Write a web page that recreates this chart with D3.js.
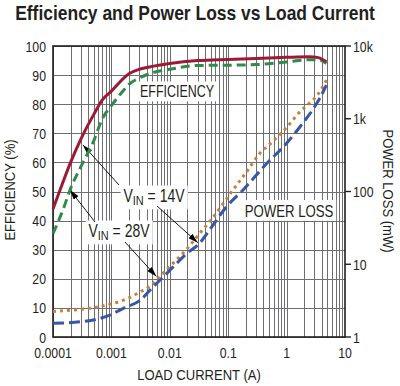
<!DOCTYPE html>
<html><head><meta charset="utf-8">
<script src="https://cdn.jsdelivr.net/npm/d3@7"></script>
<style>
body{margin:0;background:#fff;}
svg text{font-family:"Liberation Sans",Arial,sans-serif;fill:#231f20;}
</style></head>
<body><svg id="c" width="400" height="386"></svg>
<script>
// ---- data ----
const title = "Efficiency and Power Loss vs Load Current";
const xTicks = [0.0001, 0.001, 0.01, 0.1, 1, 10];
const xTickLabels = ["0.0001", "0.001", "0.01", "0.1", "1", "10"];
const effTicks = [0, 10, 20, 30, 40, 50, 60, 70, 80, 90, 100];
const lossTicks = [1, 10, 100, 1000, 10000];
const lossTickLabels = ["1", "10", "100", "1k", "10k"];

const eff14I = [0.0001, 0.00015, 0.0002, 0.0003, 0.0005, 0.0007, 0.001, 0.002, 0.003, 0.005, 0.01, 0.03, 0.1, 0.3, 1, 2.5, 3.5, 4.8];
const eff14V = [44, 53.5, 60, 68, 76.5, 81.5, 84.5, 90.5, 92, 93, 94, 95, 95.4, 95.7, 96.1, 96.3, 96, 94.6];

const eff28I = [0.0001, 0.00015, 0.0002, 0.0003, 0.0005, 0.0007, 0.001, 0.0015, 0.002, 0.003, 0.005, 0.01, 0.03, 0.1, 0.3, 1, 2.5, 3.5, 4.8];
const eff28V = [35.5, 44, 51, 58.5, 67.5, 75, 79.5, 84, 86.8, 89, 90.8, 92, 93.3, 93.4, 93.6, 94.5, 95.3, 95.3, 94];

const loss14I = [0.0001, 0.0003, 0.00064, 0.001, 0.0016, 0.0031, 0.0052, 0.0089, 0.0195, 0.033, 0.05, 0.094, 0.18, 0.46, 1, 1.7, 3, 3.7, 4.8];
const loss14V = [1.54, 1.62, 1.8, 2.05, 2.48, 3.2, 4.9, 7.5, 14, 19.8, 31, 62, 105, 244, 460, 777, 1450, 1910, 2900];

const loss28I = [0.0001, 0.0003, 0.0006, 0.001, 0.002, 0.003, 0.005, 0.007, 0.01, 0.02, 0.033, 0.05, 0.083, 0.107, 0.2, 0.35, 0.6, 1, 1.7, 2.5, 3.35, 4.8];
const loss28V = [2.25, 2.4, 2.6, 2.85, 3.45, 4.1, 5.3, 7, 9.3, 16.5, 27, 40, 69, 92, 180, 335, 500, 760, 1250, 1650, 2100, 3400];

// ---- chart ----
const svg = d3.select("#c");
const L = 53, R = 345, T = 46, B = 337;
const x = d3.scaleLog().domain([1e-4, 10]).range([L, R]);
const yE = d3.scaleLinear().domain([0, 100]).range([B, T]);
const yP = d3.scaleLog().domain([1, 1e4]).range([B, T]);
const SQ = 0.82; // condensed look

// condensed text via transform (keeps bounding boxes honest)
function ctext(parent, px, py, str, size, anchor, sx, rot) {
  return parent.append("text")
    .attr("transform", `translate(${px},${py})` + (rot ? ` rotate(${rot})` : "") + ` scale(${sx},1)`)
    .attr("text-anchor", anchor).attr("font-size", size).text(str);
}

// grid
const vGrid = [];
for (let k = -4; k <= 0; k++) for (let m = 1; m <= 9; m++) vGrid.push(m * Math.pow(10, k));
const g = svg.append("g").attr("stroke", "#6d6e70").attr("stroke-width", 1).attr("shape-rendering", "crispEdges");
g.selectAll(".v").data(vGrid).join("line")
  .attr("x1", d => Math.round(x(d)) + 0.5).attr("x2", d => Math.round(x(d)) + 0.5)
  .attr("y1", T).attr("y2", B);
g.selectAll(".h").data(effTicks).join("line")
  .attr("x1", L).attr("x2", R)
  .attr("y1", d => Math.round(yE(d)) + 0.5).attr("y2", d => Math.round(yE(d)) + 0.5);

// frame
svg.append("rect").attr("x", L).attr("y", T).attr("width", R - L).attr("height", B - T)
  .attr("fill", "none").attr("stroke", "#231f20").attr("stroke-width", 1.6);

// right ticks
svg.append("g").selectAll("line").data(lossTicks).join("line")
  .attr("x1", R).attr("x2", R + 6).attr("y1", d => yP(d)).attr("y2", d => yP(d))
  .attr("stroke", "#231f20").attr("stroke-width", 1.4);

// annotation labels with white boxes (drawn before curves)
function label(txt, sub, rest, xc, yb, size, sx) {
  const grp = svg.append("g").attr("transform", `translate(${xc},${yb}) scale(${sx},1)`);
  const t = grp.append("text").attr("x", 0).attr("y", 0).attr("text-anchor", "middle")
    .attr("font-size", size);
  if (sub) {
    t.append("tspan").text(txt);
    t.append("tspan").text(sub).attr("font-size", size * 0.78).attr("dy", 3);
    t.append("tspan").text(rest).attr("dy", -3);
  } else t.text(txt);
  const bb = t.node().getBBox();
  grp.insert("rect", "text").attr("x", bb.x - 3.5).attr("y", bb.y - 1).attr("width", bb.width + 7)
    .attr("height", bb.height + 2).attr("fill", "#fff");
  return t;
}
label("EFFICIENCY", null, null, 177, 97, 16, 0.78);
label("POWER LOSS", null, null, 289, 216.5, 16.5, 0.8);
label("V", "IN", " = 14V", 154, 202, 17.5, 0.8);
label("V", "IN", " = 28V", 119, 237, 17.5, 0.8);

// arrows
const defs = svg.append("defs");
defs.append("marker").attr("id", "ah").attr("viewBox", "0 0 10 6").attr("refX", 10).attr("refY", 3)
  .attr("markerWidth", 10).attr("markerHeight", 6).attr("markerUnits", "userSpaceOnUse").attr("orient", "auto")
  .append("path").attr("d", "M0,0 L10,3 L0,6 Z").attr("fill", "#000");
const arrows = [
  {x1: 119, y1: 185, x2: x(0.000326), y2: yE(66)},
  {x1: 157, y1: 206, x2: x(0.0302), y2: yP(19.8)},
  {x1: 95, y1: 222, x2: x(0.000195), y2: yE(50.5)},
  {x1: 125, y1: 242, x2: x(0.0059), y2: yP(6.8)}
];
svg.append("g").selectAll("line").data(arrows).join("line")
  .attr("x1", d => d.x1).attr("y1", d => d.y1).attr("x2", d => d.x2).attr("y2", d => d.y2)
  .attr("stroke", "#000").attr("stroke-width", 0.9).attr("marker-end", "url(#ah)");

// curves
function curve(I, V, ys, color, dash, cap) {
  const line = d3.line().x(d => x(d[0])).y(d => ys(d[1])).curve(d3.curveMonotoneX);
  svg.append("path").datum(I.map((d, i) => [d, V[i]])).attr("d", line)
    .attr("fill", "none").attr("stroke", color).attr("stroke-width", 3)
    .attr("stroke-dasharray", dash).attr("stroke-linecap", cap || "butt");
}
curve(loss28I, loss28V, yP, "#c4813f", "3,4");
curve(loss14I, loss14V, yP, "#3656a6", "11,5");
curve(eff28I, eff28V, yE, "#2f8a4b", "9,5");
curve(eff14I, eff14V, yE, "#9d1a35", null);

// tick labels
const tl = svg.append("g");
xTicks.forEach((d, i) => ctext(tl, x(d), 358, xTickLabels[i], 15, "middle", SQ));
effTicks.forEach(d => ctext(tl, 46, yE(d) + 5.5, String(d), 15, "end", SQ));
lossTicks.forEach((d, i) => ctext(tl, 353, yP(d) + 5.5, lossTickLabels[i], 15, "start", SQ));

// axis titles
ctext(svg, 199, 380, "LOAD CURRENT (A)", 15, "middle", 0.87);
ctext(svg, 15, 190, "EFFICIENCY (%)", 15, "middle", 0.87, -90);
ctext(svg, 383, 191, "POWER LOSS (mW)", 15, "middle", 0.87, 90);

// title
const tt = ctext(svg, 195, 20, title, 21, "middle", 1).attr("font-weight", "bold");
const tw = tt.node().getComputedTextLength();
tt.attr("transform", `translate(195,20) scale(${360 / tw},1)`);
</script></body></html>
